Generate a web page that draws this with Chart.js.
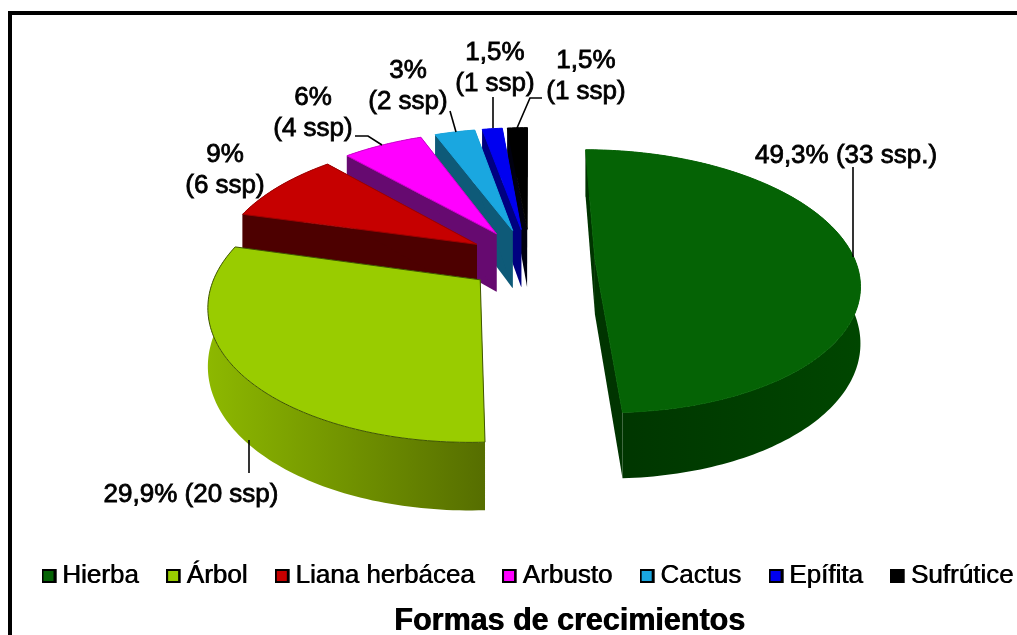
<!DOCTYPE html>
<html lang="es">
<head>
<meta charset="utf-8">
<title>Formas de crecimientos</title>
<script src="https://cdn.jsdelivr.net/npm/chart.js@4"></script>
<style>
    html, body { margin: 0; width: 1017px; height: 635px; overflow: hidden; background: #fff; }
    canvas { position: absolute; left: 0; top: 0; }
    #marco { position: absolute; left: 8px; top: 11px; width: 1100px; height: 700px; border: 4px solid #000; box-sizing: border-box; }
</style>
</head>
<body>
<canvas id="myChart" width="1125" height="635"></canvas>
<div id="marco"></div>
<script>
const categorias = ['Hierba', 'Árbol', 'Liana herbácea', 'Arbusto', 'Cactus', 'Epífita', 'Sufrútice'];
const especies = [33, 20, 6, 4, 2, 1, 1];
const etiquetas = [
    ['49,3% (33 ssp.)'],
    ['29,9% (20 ssp)'],
    ['9%', '(6 ssp)'],
    ['6%', '(4 ssp)'],
    ['3%', '(2 ssp)'],
    ['1,5%', '(1 ssp)'],
    ['1,5%', '(1 ssp)']
];

const colores = ['#056305', '#99CC00', '#C60000', '#FF00FF', '#1AA7E0', '#0000F0', '#000000'];
const bordes = ['#056305', '#3F5500', '#A00000', '#D000D0', '#1AA7E0', '#0000F0', '#000000'];
const ladoA = ['#003400', '#8DB800', '#4D0000', '#660A70', '#0E5A78', '#000080', '#000010'];
const ladoB = ['#004600', '#566E00', '#4D0000', '#660A70', '#0E5A78', '#000080', '#000010'];
const separacion = [0.25, 0.24, 0.243, 0.25, 0.25, 0.25, 0.25];
const altura = [55, 55, 55, 60, 60, 60, 60];

// posicion de cada texto: x centro, y de la primera linea base
const textoX = [846, 191, 225, 313, 408, 495, 586];
const textoY = [163, 502, 162, 105, 78, 60, 68];
const guias = [
    [[853, 167], [853, 257]],
    [[249, 473], [249, 440]],
    [],
    [[355, 136], [368, 136], [382, 145]],
    [[450, 111], [456, 132]],
    [[493, 97], [493, 128]],
    [[542, 98], [530, 98], [517, 128]]
];

// camara de la torta 3D
const CX = 530, CY = 260, RX = 260, RY = 128, PERSP = 0.167;

function proyectar(theta, r, e, medio, alto) {
    const X = r * Math.sin(theta) + e * Math.sin(medio);
    const Y = r * Math.cos(theta) + e * Math.cos(medio);
    const w = 1 + PERSP * Y;
    return [CX + RX * X / w, CY + (-RY * Y + alto) / w];
}

function trazar(ctx, puntos) {
    ctx.beginPath();
    puntos.forEach((p, i) => i === 0 ? ctx.moveTo(p[0], p[1]) : ctx.lineTo(p[0], p[1]));
    ctx.closePath();
}

function dibujarPorcion(ctx, arc, i) {
    const ini = arc.startAngle + Math.PI / 2;
    const fin = arc.endAngle + Math.PI / 2;
    const medio = (ini + fin) / 2;
    const e = separacion[i];
    const pasos = Math.max(4, Math.ceil((fin - ini) / 0.02));
    const arriba = [], abajo = [];
    for (let k = 0; k <= pasos; k++) {
        const t = ini + (fin - ini) * k / pasos;
        arriba.push(proyectar(t, 1, e, medio, 0));
        abajo.push(proyectar(t, 1, e, medio, altura[i]));
    }
    const centroA = proyectar(0, 0, e, medio, 0);
    const centroB = proyectar(0, 0, e, medio, altura[i]);

    const xs = arriba.map(p => p[0]);
    const degradado = ctx.createLinearGradient(Math.min(...xs), 0, Math.max(...xs), 0);
    degradado.addColorStop(0, ladoA[i]);
    degradado.addColorStop(1, ladoB[i]);

    // caras de corte
    ctx.fillStyle = ladoA[i];
    trazar(ctx, [centroA, arriba[0], abajo[0], centroB]);
    ctx.fill();
    trazar(ctx, [centroA, arriba[pasos], abajo[pasos], centroB]);
    ctx.fill();

    // pared exterior
    ctx.fillStyle = degradado;
    trazar(ctx, arriba.concat(abajo.slice().reverse()));
    ctx.fill();

    // cara superior
    ctx.fillStyle = colores[i];
    ctx.strokeStyle = bordes[i];
    ctx.lineWidth = 1;
    trazar(ctx, [centroA].concat(arriba));
    ctx.fill();
    ctx.stroke();
}

const tortaPlugin = {
    id: 'torta3d',
    beforeDraw(chart) {
        // el original tiene el texto algo engrosado
        const ctx = chart.ctx;
        ctx.shadowColor = '#000';
        ctx.shadowBlur = 0;
        ctx.shadowOffsetX = 0.7;
        ctx.shadowOffsetY = 0;
    },
    beforeDatasetsDraw(chart) {
        const ctx = chart.ctx;
        ctx.save();
        ctx.shadowColor = 'transparent';
        ctx.shadowOffsetX = 0;
        const arcos = chart.getDatasetMeta(0).data;
        for (let i = arcos.length - 1; i >= 0; i--) {
            dibujarPorcion(ctx, arcos[i], i);
        }

        ctx.strokeStyle = '#000';
        ctx.lineWidth = 1.6;
        guias.forEach(linea => {
            ctx.beginPath();
            linea.forEach((p, k) => k === 0 ? ctx.moveTo(p[0], p[1]) : ctx.lineTo(p[0], p[1]));
            ctx.stroke();
        });

        ctx.font = '26px "Liberation Sans"';
        ctx.textAlign = 'center';
        ctx.textBaseline = 'alphabetic';
        ctx.fillStyle = '#000';
        ctx.lineWidth = 0.8;
        etiquetas.forEach((lineas, i) => {
            lineas.forEach((txt, k) => {
                ctx.fillText(txt, textoX[i], textoY[i] + k * 31);
                ctx.strokeText(txt, textoX[i], textoY[i] + k * 31);
            });
        });
        ctx.restore();
        return false;
    }
};

function cuadro(color) {
    // lienzo propio para que el cuadro quede pegado al texto
    const c = document.createElement('canvas');
    c.width = 14;
    c.height = 14;
    const g = c.getContext('2d');
    g.fillStyle = color;
    g.fillRect(0, 0, 14, 14);
    g.strokeStyle = '#000';
    g.lineWidth = 2;
    g.strokeRect(1, 1, 12, 12);
    return c;
}

new Chart(document.getElementById('myChart'), {
    type: 'pie',
    data: {
        labels: categorias,
        datasets: [{
            data: especies,
            backgroundColor: colores
        }]
    },
    options: {
        responsive: false,
        animation: false,
        devicePixelRatio: 1,
        layout: { padding: { left: 14 } },
        plugins: {
            legend: {
                position: 'bottom',
                align: 'start',
                labels: {
                    color: '#000',
                    font: { family: '"Liberation Sans"', size: 26 },
                    usePointStyle: true,
                    pointStyleWidth: 1,
                    padding: 34,
                    generateLabels() {
                        return categorias.map((texto, i) => ({
                            text: texto,
                            fillStyle: colores[i],
                            fontColor: '#000',
                            pointStyle: cuadro(colores[i]),
                            lineWidth: 0,
                            hidden: false,
                            index: i
                        }));
                    }
                }
            },
            title: {
                display: true,
                position: 'bottom',
                text: 'Formas de crecimientos',
                color: '#000',
                font: { family: '"Liberation Sans"', size: 30.5, weight: 'bold', lineHeight: 1 },
                padding: { top: 7.5, bottom: -2 }
            },
            tooltip: { enabled: false }
        }
    },
    plugins: [tortaPlugin]
});
</script>
</body>
</html>
